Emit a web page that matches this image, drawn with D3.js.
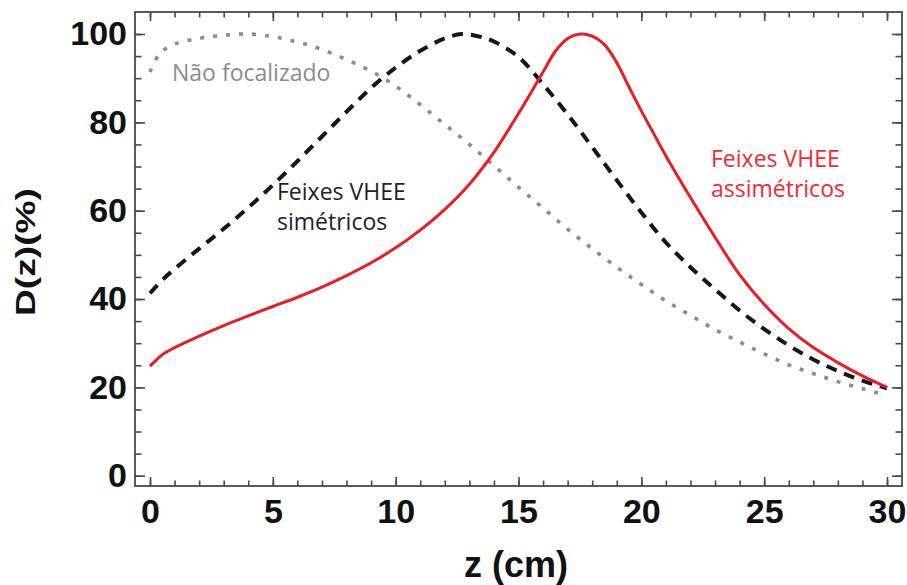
<!DOCTYPE html>
<html>
<head>
<meta charset="utf-8">
<script src="https://cdn.jsdelivr.net/npm/d3@7"></script>
<style>
  body { margin: 0; background: #fff; }
  svg { display: block; }
</style>
</head>
<body>
<script>
// depth (cm) and relative dose (%)
let zAsym = [0, 0.5, 1, 2, 3, 4, 5, 6, 7, 8, 9, 10, 11, 12, 13, 14, 15, 16, 16.5, 17, 17.5, 18, 18.5, 19, 19.5, 20, 20.5, 21, 22, 23, 24, 25, 26, 27, 28, 29, 30];
let dAsym = [24.8, 27.4, 29, 31.6, 34, 36.2, 38.3, 40.4, 42.7, 45.3, 48.2, 51.6, 55.6, 60.3, 66, 73.2, 82, 91.4, 96.1, 99, 100, 99.5, 97.6, 93.5, 88, 82.6, 77.5, 72.4, 63, 54, 45.5, 38.8, 33.3, 29, 25.6, 22.6, 20];

let zSym = [0, 0.5, 1, 2, 3, 4, 5, 6, 7, 8, 9, 10, 11, 12, 12.7, 13.5, 14, 15, 16, 17, 18, 19, 20, 21, 22, 23, 24, 25, 26, 27, 28, 29, 30];
let dSym = [41.3, 44.3, 46.8, 51.4, 55.9, 60.7, 65.8, 71.2, 76.8, 82.4, 87.8, 92.4, 96.2, 99, 100, 99.3, 98.3, 94.8, 88.6, 81.8, 74.4, 66.9, 59.6, 52.8, 47.2, 42.2, 37.4, 33.2, 29.5, 26.3, 23.7, 21.5, 19.8];

let zUnf = [0, 0.4, 1, 2, 3, 4, 5, 6, 7, 8, 9, 10, 11, 12, 13, 14, 15, 16, 17, 18, 19, 20, 21, 22, 23, 24, 25, 26, 27, 28, 29, 29.7];
let dUnf = [91.4, 95.6, 97.7, 99, 99.7, 100, 99.4, 98.2, 96.5, 94.2, 91.6, 88.2, 84, 79.5, 75, 70.2, 65.3, 60.6, 55.8, 51.4, 47.2, 43.3, 39.6, 36.3, 33.1, 30.3, 27.6, 25.1, 23.1, 21.3, 19.7, 18.6];

let xTicks = [0, 5, 10, 15, 20, 25, 30];
let yTicks = [0, 20, 40, 60, 80, 100];

let width = 907;
let height = 585;
let frame = { left: 135, right: 902, top: 12, bottom: 486 };

let svg = d3.select("body")
    .append("svg")
    .attr("width", width)
    .attr("height", height);

let xScale = d3.scaleLinear().domain([0, 30]).range([150, 887]);
let yScale = d3.scaleLinear().domain([0, 100]).range([475.7, 34]);

let tickFont = "'Liberation Sans', Arial, sans-serif";

// frame
svg.append("rect")
    .attr("x", frame.left)
    .attr("y", frame.top)
    .attr("width", frame.right - frame.left)
    .attr("height", frame.bottom - frame.top)
    .attr("fill", "none")
    .attr("stroke", "#4a4a4a")
    .attr("stroke-width", 1.8);

function addAxis(axis, tx, ty, labels) {
    let g = svg.append("g")
        .attr("transform", "translate(" + tx + "," + ty + ")")
        .call(axis);
    g.select(".domain").remove();
    g.selectAll(".tick line").attr("stroke", "#4a4a4a").attr("stroke-width", 1.6);
    if (!labels) g.selectAll(".tick text").remove();
    return g;
}

let xMinor = d3.range(0, 31);
let yMinor = d3.range(0, 101, 5);

// bottom
addAxis(d3.axisBottom(xScale).tickValues(xTicks).tickSize(-9).tickPadding(13).tickFormat(d3.format("d")), 0, frame.bottom, true);
addAxis(d3.axisBottom(xScale).tickValues(xMinor).tickSize(-5.5).tickFormat(""), 0, frame.bottom, false);
// top
addAxis(d3.axisTop(xScale).tickValues(xTicks).tickSize(-9), 0, frame.top, false);
addAxis(d3.axisTop(xScale).tickValues(xMinor).tickSize(-5.5), 0, frame.top, false);
// left
addAxis(d3.axisLeft(yScale).tickValues(yTicks).tickSize(-10).tickPadding(8).tickFormat(d3.format("d")), frame.left, 0, true);
addAxis(d3.axisLeft(yScale).tickValues(yMinor).tickSize(-6.5), frame.left, 0, false);
// right
addAxis(d3.axisRight(yScale).tickValues(yTicks).tickSize(-10), frame.right, 0, false);
addAxis(d3.axisRight(yScale).tickValues(yMinor).tickSize(-6.5), frame.right, 0, false);

svg.selectAll(".tick text")
    .style("font-family", tickFont)
    .style("font-weight", "bold")
    .style("font-size", "34px")
    .attr("fill", "#111");

// curves
let line = d3.line()
    .x((d) => xScale(d[0]))
    .y((d) => yScale(d[1]))
    .curve(d3.curveCatmullRom.alpha(0.5));

svg.append("path")
    .attr("d", line(d3.zip(zUnf, dUnf)))
    .attr("fill", "none")
    .attr("stroke", "#8d8d8d")
    .attr("stroke-width", 3.6)
    .attr("stroke-dasharray", "4,9");

svg.append("path")
    .attr("d", line(d3.zip(zSym, dSym)))
    .attr("fill", "none")
    .attr("stroke", "#161616")
    .attr("stroke-width", 4)
    .attr("stroke-dasharray", "11,8");

svg.append("path")
    .attr("d", line(d3.zip(zAsym, dAsym)))
    .attr("fill", "none")
    .attr("stroke", "#ea1c24")
    .attr("stroke-width", 3);

// annotations
let noteFont = "'Open Sans', 'Noto Sans', sans-serif";
function note(lines, x, y, color) {
    let t = svg.append("text")
        .attr("x", x)
        .attr("y", y)
        .attr("fill", color)
        .style("font-family", noteFont)
        .style("font-size", "23px");
    lines.forEach((s, i) => {
        t.append("tspan").attr("x", x).attr("dy", i === 0 ? 0 : 30).text(s);
    });
}
note(["Não focalizado"], 172, 81, "#8c8c8c");
note(["Feixes VHEE", "simétricos"], 277, 200, "#1e1e2a");
note(["Feixes VHEE", "assimétricos"], 711, 167, "#ef2a33");

// axis titles
svg.append("text")
    .attr("x", 516)
    .attr("y", 577)
    .attr("text-anchor", "middle")
    .style("font-family", tickFont)
    .style("font-weight", "bold")
    .style("font-size", "36px")
    .attr("fill", "#111")
    .text("z (cm)");

svg.append("text")
    .attr("transform", "translate(35,252) rotate(-90)")
    .attr("text-anchor", "middle")
    .attr("textLength", 128)
    .attr("lengthAdjust", "spacingAndGlyphs")
    .style("font-family", tickFont)
    .style("font-weight", "bold")
    .style("font-size", "27px")
    .attr("fill", "#111")
    .text("D(z)(%)");
</script>
</body>
</html>
